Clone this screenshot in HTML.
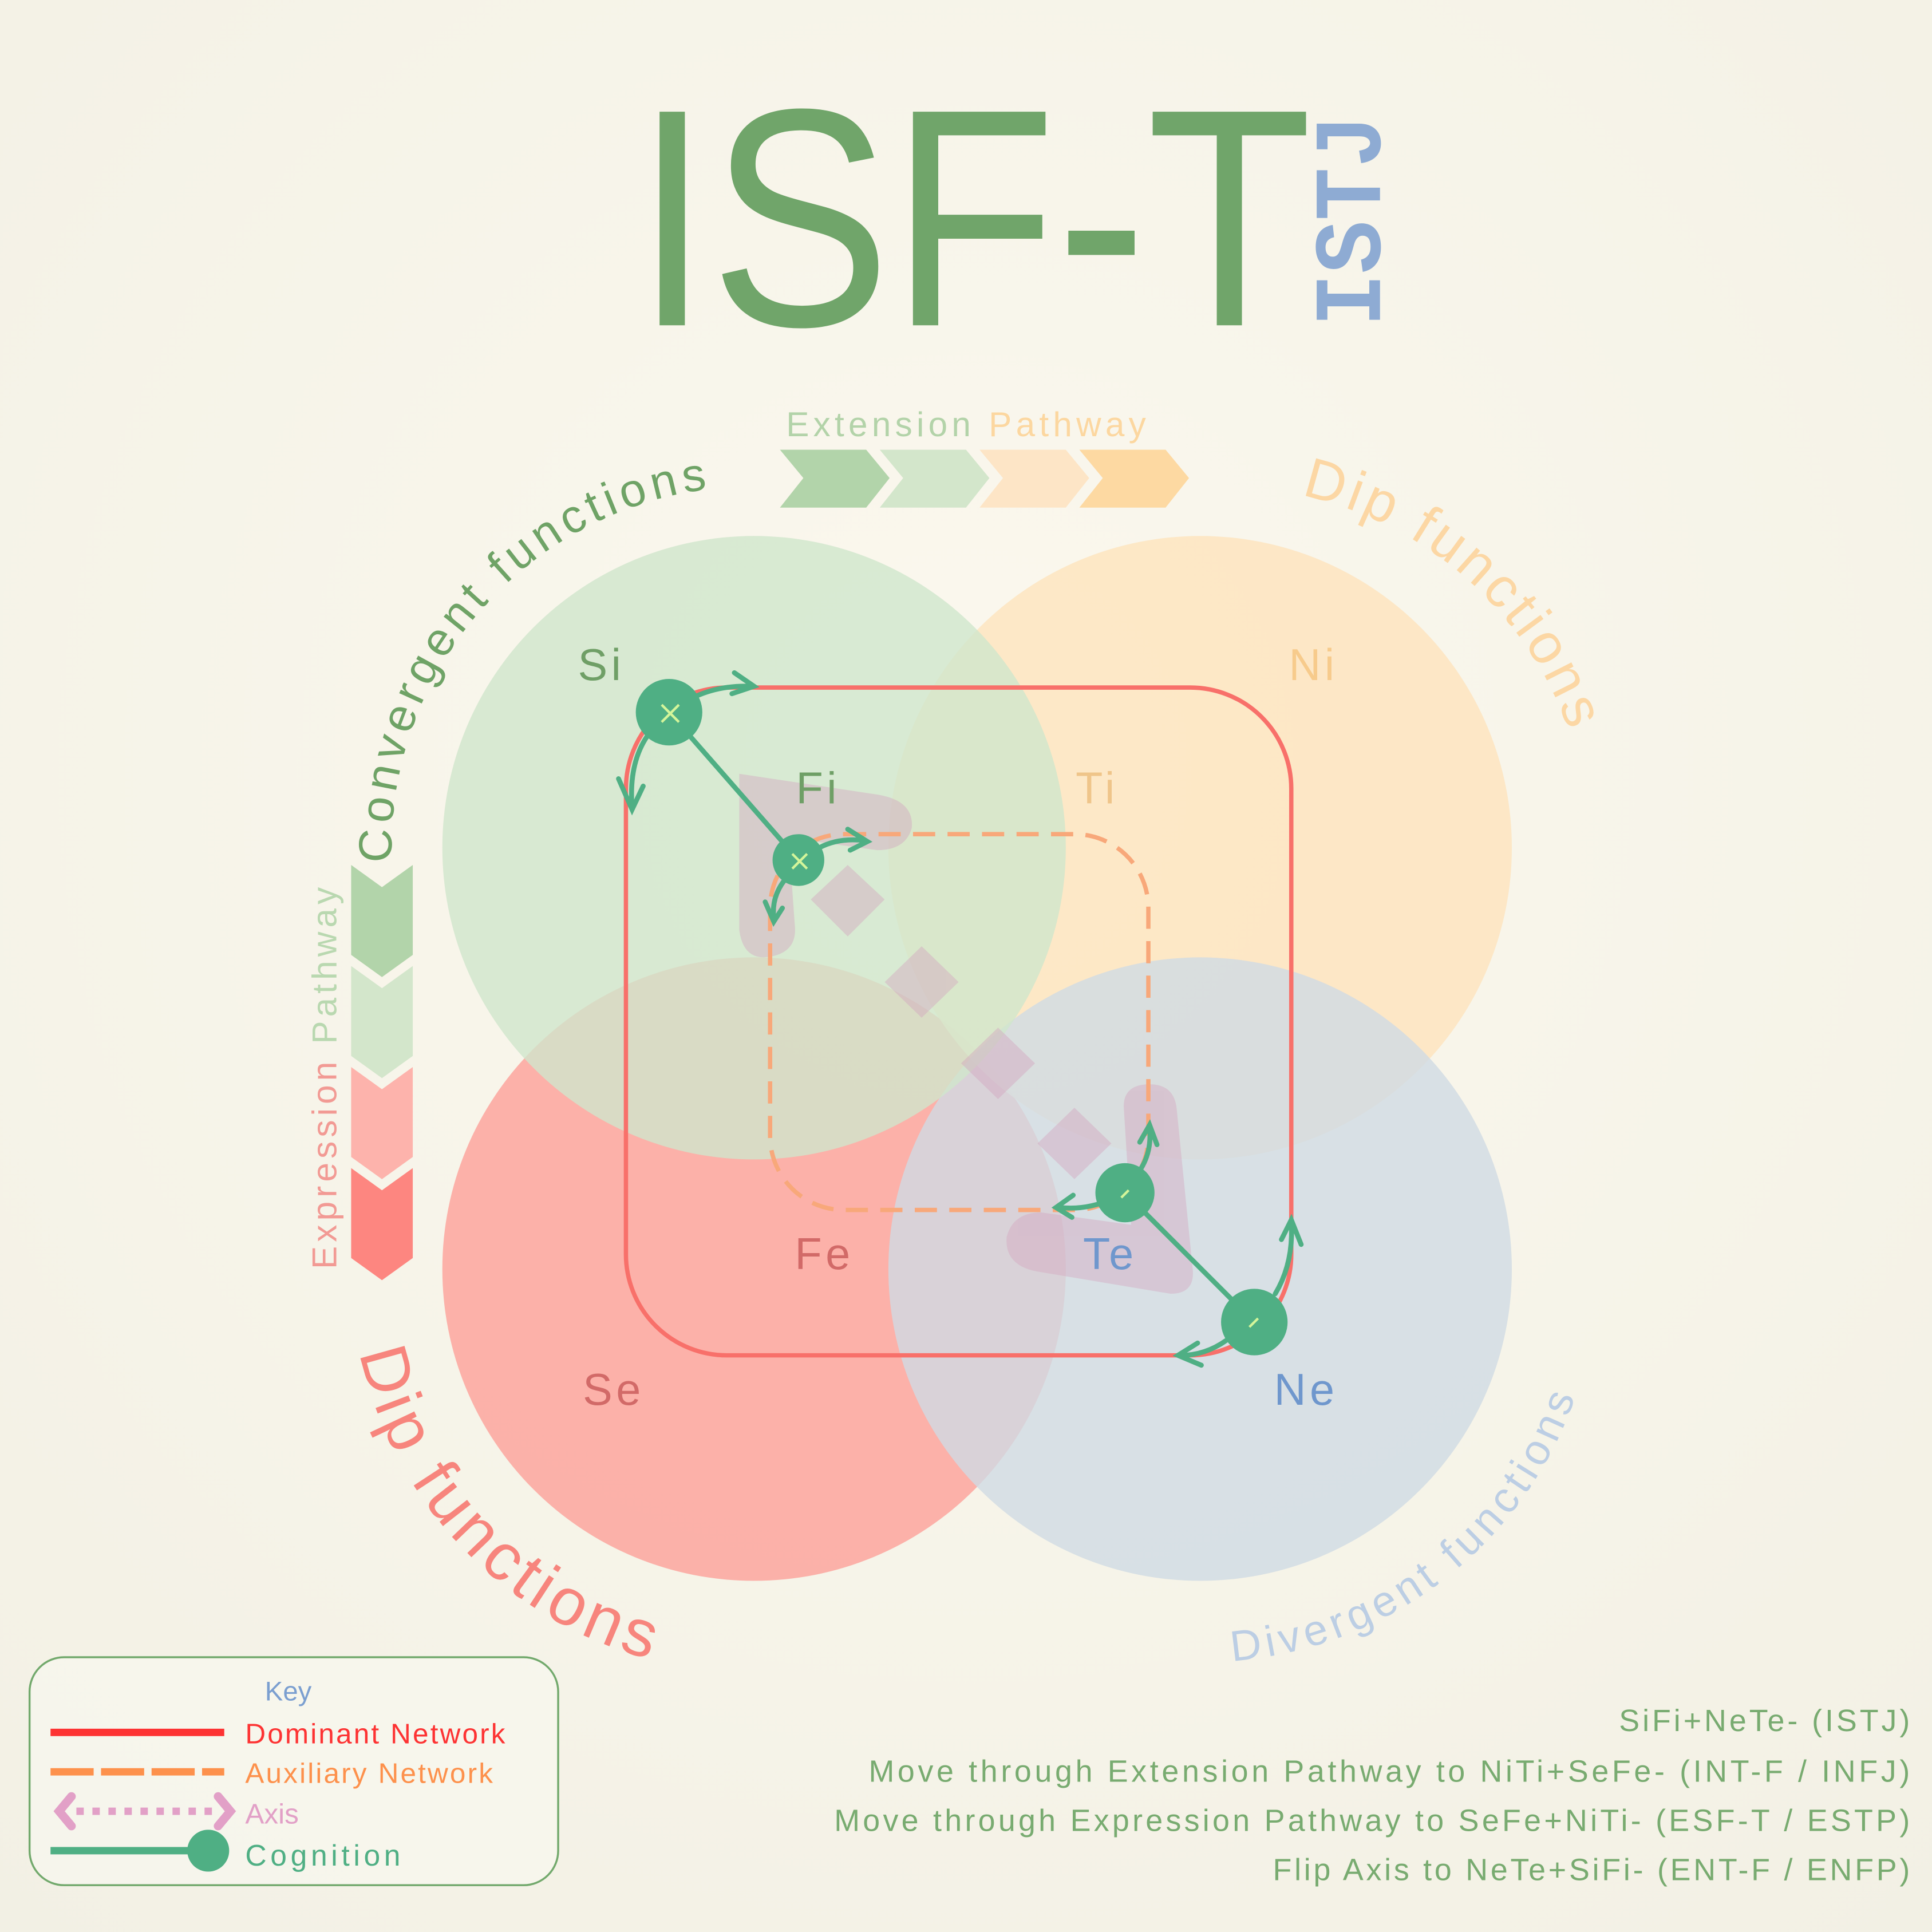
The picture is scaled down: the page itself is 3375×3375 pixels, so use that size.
<!DOCTYPE html>
<html><head><meta charset="utf-8"><style>html,body{margin:0;padding:0;background:#f7f5ec}svg{display:block}</style></head>
<body>
<svg xmlns="http://www.w3.org/2000/svg" width="3375" height="3375" viewBox="0 0 1568 1568" font-family="Liberation Sans, DejaVu Sans, sans-serif">
<defs>
<radialGradient id="bg" cx="0.5" cy="0.4" r="0.8"><stop offset="0" stop-color="#fbf8ee"/><stop offset="1" stop-color="#f2f0e4"/></radialGradient>
<path id="pConv" d="M 318 700 A 294 294 0 0 1 640 396"/>
<path id="pDipO" d="M 1056 402 A 296 296 0 0 1 1290 700"/>
<path id="pDipR" d="M 292 1098 A 328 328 0 0 0 620 1358"/>
<path id="pDiv" d="M 1000 1348 A 320 320 0 0 0 1296 1020"/>
</defs>
<rect width="1568" height="1568" fill="url(#bg)"/>
<text x="515" y="264" font-size="252" fill="#70a56a" textLength="550" lengthAdjust="spacingAndGlyphs">ISF-T</text>
<text transform="translate(1120,265) rotate(-90)" font-family="Liberation Mono, monospace" font-weight="bold" font-size="78" fill="#8eabd3" textLength="172" lengthAdjust="spacingAndGlyphs">ISTJ</text>
<text x="638" y="354" font-size="28" fill="#b3d3a9" textLength="292">Extension <tspan fill="#fcd7a0">Pathway</tspan></text>
<g>
<polygon points="633,365 703,365 722,388 703,412 633,412 652,388" fill="#b2d4aa"/>
<polygon points="714,365 784,365 803,388 784,412 714,412 733,388" fill="#d3e6cb"/>
<polygon points="795,365 865,365 884,388 865,412 795,412 814,388" fill="#fde5c6"/>
<polygon points="876,365 946,365 965,388 946,412 876,412 895,388" fill="#fdd9a2"/>
</g>
<g>
<polygon points="285,702 310,720 335,702 335,775 310,793 285,775" fill="#b2d4aa"/>
<polygon points="285,784 310,802 335,784 335,857 310,875 285,857" fill="#d3e6cb"/>
<polygon points="285,866 310,884 335,866 335,939 310,957 285,939" fill="#fdb3ac"/>
<polygon points="285,948 310,966 335,948 335,1021 310,1039 285,1021" fill="#fd8680"/>
</g>
<text transform="translate(273,1030) rotate(-90)" font-size="28" fill="#f29a94" textLength="310">Expression <tspan fill="#b9d8b0">Pathway</tspan></text>
<circle cx="612" cy="1030" r="253" fill="#fcaaa2" opacity="0.9"/>
<circle cx="974" cy="688" r="253" fill="#fde6c2" opacity="0.9"/>
<circle cx="974" cy="1030" r="253" fill="#cfdbe3" opacity="0.8"/>
<circle cx="612" cy="688" r="253" fill="#cfe6cc" opacity="0.8"/>
<text font-size="38" letter-spacing="4" fill="#6fa366"><textPath href="#pConv">Convergent  functions</textPath></text>
<text font-size="46" letter-spacing="3" fill="#fcd7a4"><textPath href="#pDipO">Dip functions</textPath></text>
<text font-size="54" letter-spacing="4" fill="#f7857d"><textPath href="#pDipR">Dip functions</textPath></text>
<text font-size="35" letter-spacing="4" fill="#bccee4"><textPath href="#pDiv">Divergent functions</textPath></text>
<g fill="#d4a8c0" opacity="0.45">
<path d="M 600 628 L 713 645 Q 742 650 740 672 Q 735 690 712 690 L 640 680 L 645 750 Q 648 775 620 777 Q 603 777 600 755 Z"/>
<path d="M 955 900 L 968 1030 Q 970 1050 950 1050 L 842 1032 Q 815 1027 817 1004 Q 822 984 845 984 L 918 994 L 912 898 Q 912 880 933 880 Q 953 880 955 900 Z"/>
<polygon points="688,702 718,730 688,760 658,730"/>
<polygon points="748,768 778,797 748,826 718,797"/>
<polygon points="810,834 840,863 810,892 780,863"/>
<polygon points="872,899 902,928 872,957 842,928"/>
</g>
<rect x="508" y="558" width="540" height="542" rx="82" fill="none" stroke="#f8706a" stroke-width="3.5"/>
<rect x="625" y="677" width="307" height="305" rx="60" fill="none" stroke="#f8a87a" stroke-width="3.5" stroke-dasharray="18 10"/>
<g font-size="36" letter-spacing="3">
<text x="469" y="552" fill="#6f9f66">Si</text>
<text x="1046" y="552" fill="#f7cb8c">Ni</text>
<text x="646" y="652" fill="#6f9f66">Fi</text>
<text x="873" y="652" fill="#efc58a">Ti</text>
<text x="645" y="1030" fill="#d26a68">Fe</text>
<text x="879" y="1030" fill="#6f97cd">Te</text>
<text x="473" y="1140" fill="#d26a68">Se</text>
<text x="1034" y="1140" fill="#6f97cd">Ne</text>
</g>
<g stroke="#4faf84" stroke-width="4" fill="none" stroke-linecap="round">
<line x1="543" y1="578" x2="648" y2="698"/>
<line x1="913" y1="968" x2="1018" y2="1073"/>
<path d="M 565 565 Q 585 556 610 557"/><path d="M 596 546 L 612 557 L 594 563"/>
<path d="M 527 595 Q 510 618 513 655"/><path d="M 502 632 L 513 657 L 522 638"/>
<path d="M 665 688 Q 680 680 700 682"/><path d="M 688 673 L 704 683 L 690 690"/>
<path d="M 637 714 Q 626 728 628 745"/><path d="M 621 732 L 628 748 L 635 737"/>
<path d="M 925 950 Q 935 935 933 915"/><path d="M 925 927 L 933 913 L 939 929"/>
<path d="M 895 976 Q 878 982 860 980"/><path d="M 871 970 L 857 980 L 870 988"/>
<path d="M 1035 1050 Q 1050 1025 1048 992"/><path d="M 1040 1006 L 1048 990 L 1056 1010"/>
<path d="M 995 1088 Q 978 1100 958 1100"/><path d="M 972 1090 L 956 1100 L 975 1108"/>
</g>
<g fill="#4faf84">
<circle cx="543" cy="578" r="27"/><circle cx="648" cy="698" r="21"/>
<circle cx="913" cy="968" r="24"/><circle cx="1018" cy="1073" r="27"/>
</g>
<g stroke="#d4f59a" stroke-width="2">
<path d="M 537 572 L 551 586 M 551 572 L 537 586"/>
<path d="M 643 693 L 655 705 M 655 693 L 643 705"/>
<path d="M 910 972 L 916 966"/><path d="M 1014 1077 L 1021 1070"/>
</g>
<rect x="24" y="1345" width="429" height="185" rx="28" fill="#f9f8f0" fill-opacity="0.6" stroke="#72a96c" stroke-width="1.6"/>
<text x="215" y="1380" font-size="22" fill="#7b9fd0">Key</text>
<line x1="41" y1="1406" x2="182" y2="1406" stroke="#fd3333" stroke-width="6"/>
<text x="199" y="1415" font-size="23" fill="#fd3333" textLength="211">Dominant Network</text>
<line x1="41" y1="1438" x2="182" y2="1438" stroke="#fd914c" stroke-width="6" stroke-dasharray="35 6"/>
<text x="199" y="1447" font-size="23" fill="#fd914c" textLength="201">Auxiliary Network</text>
<line x1="62" y1="1470" x2="172" y2="1470" stroke="#e2a0c7" stroke-width="6" stroke-dasharray="6 7"/>
<path d="M 58 1458 L 48 1470 L 58 1482 M 177 1458 L 187 1470 L 177 1482" stroke="#e2a0c7" stroke-width="7" fill="none" stroke-linecap="round"/>
<text x="199" y="1480" font-size="23" fill="#e2a0c7">Axis</text>
<line x1="41" y1="1502" x2="170" y2="1502" stroke="#4faf84" stroke-width="6"/>
<circle cx="169" cy="1502" r="17" fill="#4faf84"/>
<text x="199" y="1514" font-size="24" fill="#4faf84" textLength="126">Cognition</text>
<g font-size="25" fill="#78ab70" text-anchor="end">
<text x="1550" y="1405" textLength="236">SiFi+NeTe- (ISTJ)</text>
<text x="1550" y="1446" textLength="845">Move through Extension Pathway to NiTi+SeFe- (INT-F / INFJ)</text>
<text x="1550" y="1486" textLength="873">Move through Expression Pathway to SeFe+NiTi- (ESF-T / ESTP)</text>
<text x="1550" y="1526" textLength="517">Flip Axis to NeTe+SiFi- (ENT-F / ENFP)</text>
</g>
</svg>
</body></html>
